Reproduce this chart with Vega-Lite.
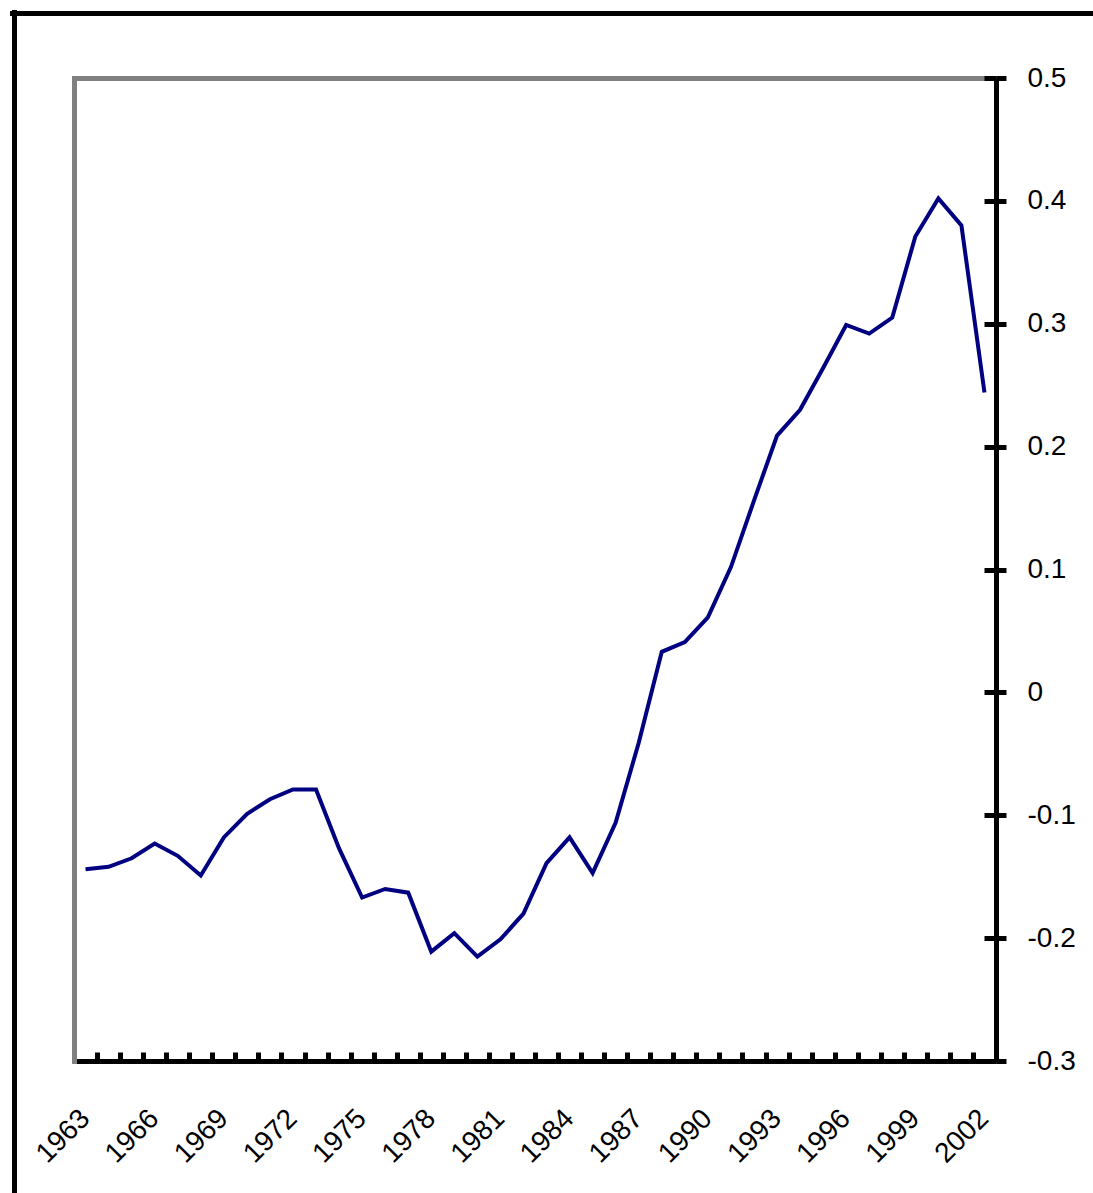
{
  "$schema": "https://vega.github.io/schema/vega-lite/v6.json",
  "width": 922,
  "height": 983,
  "autosize": {"type": "none"},
  "padding": {"left": 74, "top": 78, "right": 97, "bottom": 132},
  "background": "white",
  "config": {
    "view": {"stroke": null},
    "axis": {"labelFont": "Liberation Sans", "grid": false, "title": null, "labelColor": "black"}
  },
  "data": {
    "values": [
      {"year": 1963, "value": -0.144},
      {"year": 1964, "value": -0.142},
      {"year": 1965, "value": -0.135},
      {"year": 1966, "value": -0.123},
      {"year": 1967, "value": -0.133},
      {"year": 1968, "value": -0.149},
      {"year": 1969, "value": -0.118},
      {"year": 1970, "value": -0.099},
      {"year": 1971, "value": -0.087},
      {"year": 1972, "value": -0.079},
      {"year": 1973, "value": -0.079},
      {"year": 1974, "value": -0.127},
      {"year": 1975, "value": -0.167},
      {"year": 1976, "value": -0.16},
      {"year": 1977, "value": -0.163},
      {"year": 1978, "value": -0.211},
      {"year": 1979, "value": -0.196},
      {"year": 1980, "value": -0.215},
      {"year": 1981, "value": -0.201},
      {"year": 1982, "value": -0.18},
      {"year": 1983, "value": -0.139},
      {"year": 1984, "value": -0.118},
      {"year": 1985, "value": -0.147},
      {"year": 1986, "value": -0.106},
      {"year": 1987, "value": -0.041},
      {"year": 1988, "value": 0.033},
      {"year": 1989, "value": 0.041},
      {"year": 1990, "value": 0.061},
      {"year": 1991, "value": 0.102},
      {"year": 1992, "value": 0.156},
      {"year": 1993, "value": 0.209},
      {"year": 1994, "value": 0.23},
      {"year": 1995, "value": 0.264},
      {"year": 1996, "value": 0.299},
      {"year": 1997, "value": 0.292},
      {"year": 1998, "value": 0.305},
      {"year": 1999, "value": 0.371},
      {"year": 2000, "value": 0.402},
      {"year": 2001, "value": 0.38},
      {"year": 2002, "value": 0.244}
    ]
  },
  "layer": [
    {
      "mark": {"type": "line", "color": "#000080", "strokeWidth": 4},
      "encoding": {
        "x": {
          "field": "year", "type": "ordinal",
          "scale": {"type": "band", "paddingInner": 0, "paddingOuter": 0},
          "axis": {
            "orient": "bottom", "domain": true, "domainColor": "black", "domainWidth": 5,
            "ticks": false, "tickSize": 0, "labelAngle": -45, "labelAlign": "right",
            "labelBaseline": "middle", "labelPadding": 53, "labelFontSize": 28,
            "labelOverlap": false, "labelBound": false, "labelFlush": false,
            "labelExpr": "(datum.value - 1963) % 3 == 0 ? datum.label : ''"
          }
        },
        "y": {
          "field": "value", "type": "quantitative",
          "scale": {"domain": [-0.3, 0.5], "nice": false, "zero": false},
          "axis": {
            "orient": "right", "values": [-0.3, -0.2, -0.1, 0, 0.1, 0.2, 0.3, 0.4, 0.5],
            "domainColor": "black", "domainWidth": 5, "tickColor": "black", "tickWidth": 5,
            "tickSize": 10, "labelPadding": 21, "labelFontSize": 28, "labelAlign": "left",
            "labelBaseline": "middle", "labelOverlap": false, "labelBound": false, "labelFlush": false,
            "labelExpr": "'' + round(datum.value * 10) / 10"
          }
        }
      }
    },
    {
      "mark": {"type": "line", "opacity": 0},
      "encoding": {
        "x": {
          "field": "year", "type": "ordinal",
          "scale": {"type": "band", "paddingInner": 0, "paddingOuter": 0},
          "axis": {
            "orient": "bottom", "offset": -9, "domain": false, "labels": false,
            "ticks": true, "tickBand": "extent", "tickSize": 9, "tickWidth": 5, "tickColor": "black"
          }
        },
        "y": {
          "field": "value", "type": "quantitative",
          "scale": {"domain": [-0.3, 0.5], "nice": false, "zero": false},
          "axis": {
            "orient": "right", "offset": -12, "values": [-0.3, -0.2, -0.1, 0, 0.1, 0.2, 0.3, 0.4, 0.5],
            "domain": false, "labels": false, "tickSize": 12, "tickWidth": 5, "tickColor": "black"
          }
        }
      }
    },
    {
      "mark": {"type": "line", "opacity": 0},
      "encoding": {
        "x": {
          "field": "year", "type": "quantitative",
          "scale": {"domain": [1963, 2002], "nice": false, "zero": false},
          "axis": {"orient": "top", "domainColor": "#808080", "domainWidth": 5, "domainCap": "square", "ticks": false, "labels": false}
        },
        "y": {
          "field": "value", "type": "quantitative",
          "scale": {"domain": [-0.3, 0.5], "nice": false, "zero": false},
          "axis": {"orient": "left", "domainColor": "#808080", "domainWidth": 5, "domainCap": "square", "ticks": false, "labels": false}
        }
      }
    },
    {
      "mark": {"type": "line", "opacity": 0},
      "encoding": {
        "x": {
          "field": "year", "type": "quantitative",
          "scale": {"domain": [1963, 2002], "nice": false, "zero": false, "range": [-62, 1100]},
          "axis": {"orient": "top", "offset": 65, "domainColor": "black", "domainWidth": 5, "domainCap": "square", "ticks": false, "labels": false}
        },
        "y": {
          "field": "value", "type": "quantitative",
          "scale": {"domain": [-0.3, 0.5], "nice": false, "zero": false, "range": [1130, -66]},
          "axis": {"orient": "left", "offset": 60, "domainColor": "black", "domainWidth": 5, "domainCap": "square", "ticks": false, "labels": false}
        }
      }
    }
  ],
  "resolve": {
    "scale": {"x": "independent", "y": "independent"},
    "axis": {"x": "independent", "y": "independent"}
  }
}
